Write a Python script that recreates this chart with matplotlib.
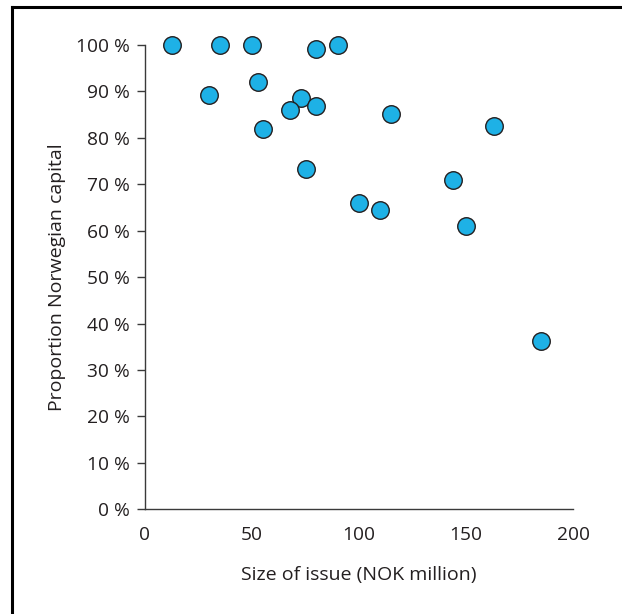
import matplotlib
matplotlib.use("Agg")
import matplotlib.pyplot as plt
from matplotlib.lines import Line2D
from matplotlib.ticker import FuncFormatter

# Data
issue_size = [12.8, 34.9, 49.8, 79.9, 90.0, 29.9, 52.6, 72.9, 79.9, 67.9,
              55.0, 75.0, 114.8, 162.9, 143.9, 99.8, 109.9, 149.9, 184.8]
norwegian_share = [100, 100, 100, 99.1, 100, 89.2, 92.0, 88.6, 86.9, 85.9,
                   82.0, 73.3, 85.1, 82.5, 71.0, 66.0, 64.4, 61.0, 36.3]
x_ticks = [0, 50, 100, 150, 200]
y_ticks = [0, 10, 20, 30, 40, 50, 60, 70, 80, 90, 100]

plt.rcParams['font.family'] = ['Open Sans', 'DejaVu Sans']
text_color = '#231F20'

fig = plt.figure(figsize=(6.22, 6.14), dpi=100)
W, H = 622, 614
ax = fig.add_axes([145 / W, (H - 509.3) / H, (573.3 - 145) / W, (509.3 - 45) / H])

ax.scatter(issue_size, norwegian_share, s=17.5**2 * 0.52, facecolor='#1EB1E6',
           edgecolor=text_color, linewidth=1.0, zorder=3, clip_on=False)

ax.set_xlim(0, 200)
ax.set_ylim(0, 100)
ax.set_xticks(x_ticks)
ax.set_yticks(y_ticks)
ax.yaxis.set_major_formatter(FuncFormatter(lambda v, p: f"{int(v)} %"))
for s in ['top', 'right']:
    ax.spines[s].set_visible(False)
for s in ['left', 'bottom']:
    ax.spines[s].set_color('#3a3a3a')
    ax.spines[s].set_linewidth(1.0)
ax.tick_params(axis='y', length=6, width=1.0, color='#3a3a3a', labelsize=13.8,
               labelcolor=text_color, pad=5)
ax.tick_params(axis='x', length=0, labelsize=13.8, labelcolor=text_color, pad=12)

ax.set_xlabel('Size of issue (NOK million)', fontsize=14, color=text_color, labelpad=16)
ax.set_ylabel('Proportion Norwegian capital', fontsize=14, color=text_color, labelpad=7)

# outer frame (top and left lines)
fig.add_artist(Line2D([12 / W, 1.0], [(H - 7) / H] * 2, transform=fig.transFigure,
                      color='black', linewidth=2.2))
fig.add_artist(Line2D([12 / W] * 2, [0, (H - 7) / H], transform=fig.transFigure,
                      color='black', linewidth=2.2))

fig.savefig('out.png', dpi=100)
